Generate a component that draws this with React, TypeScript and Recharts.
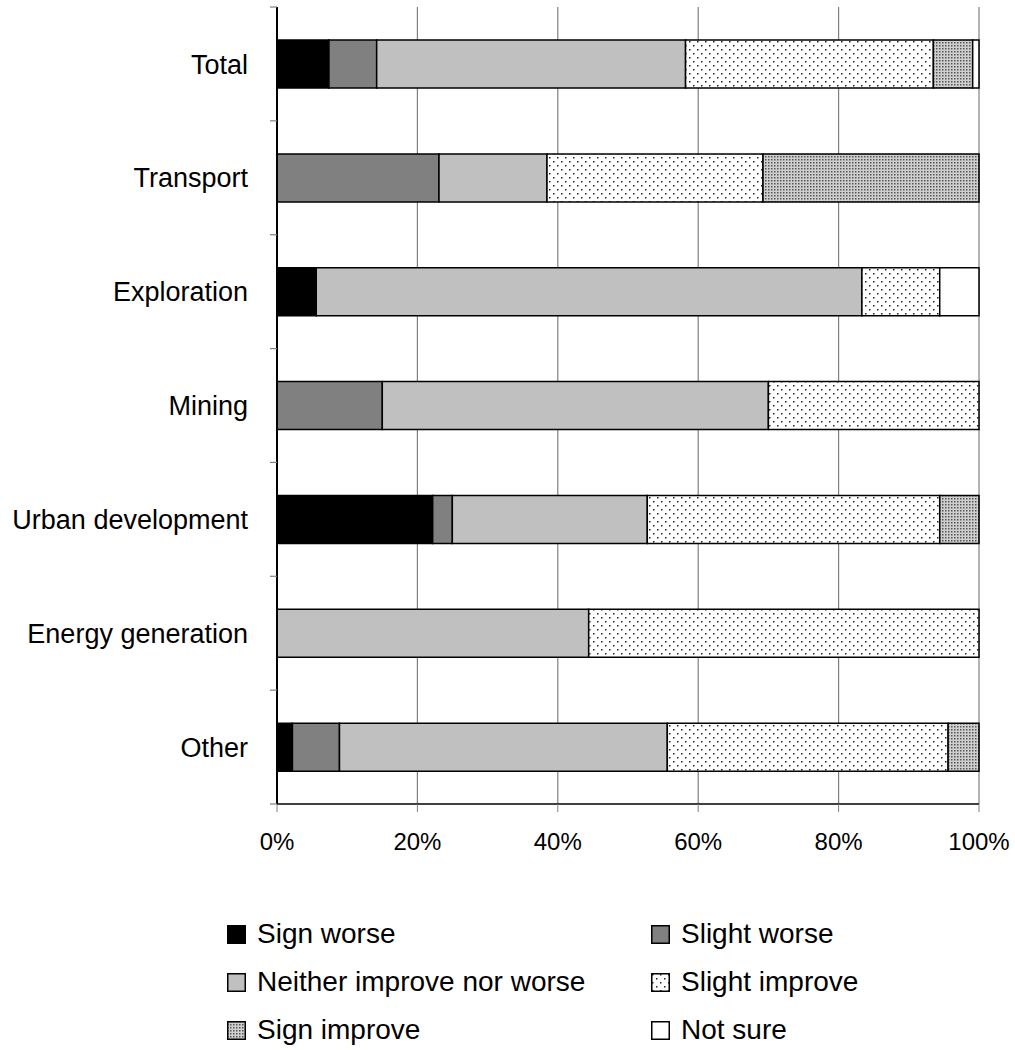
import React from 'react';
import { BarChart, Bar, XAxis, YAxis, CartesianGrid } from 'recharts';

const categories = ['Total', 'Transport', 'Exploration', 'Mining', 'Urban development', 'Energy generation', 'Other'];
const signWorse = [7.4, 0, 5.6, 0, 22.2, 0, 2.2];
const slightWorse = [6.8, 23.1, 0, 15.0, 2.8, 0, 6.7];
const neither = [44.0, 15.4, 77.8, 55.0, 27.8, 44.4, 46.7];
const slightImprove = [35.3, 30.8, 11.1, 30.0, 41.7, 55.6, 40.0];
const signImprove = [5.6, 30.8, 0, 0, 5.6, 0, 4.4];
const notSure = [0.9, 0, 5.6, 0, 0, 0, 0];

const xTicks = [0, 0.2, 0.4, 0.6, 0.8, 1];
const boundaryTicks = [0, 1, 2, 3, 4, 5, 6, 7];

const seriesDefs = [
  { key: 'signWorse', name: 'Sign worse', fill: '#000000', values: signWorse },
  { key: 'slightWorse', name: 'Slight worse', fill: '#808080', values: slightWorse },
  { key: 'neither', name: 'Neither improve nor worse', fill: '#c0c0c0', values: neither },
  { key: 'slightImprove', name: 'Slight improve', fill: 'url(#patSlight)', values: slightImprove },
  { key: 'signImprove', name: 'Sign improve', fill: 'url(#patSign)', values: signImprove },
  { key: 'notSure', name: 'Not sure', fill: '#ffffff', values: notSure },
];

const data = categories.map((c, i) => {
  const row: Record<string, any> = { category: c, position: i };
  seriesDefs.forEach((s) => {
    row[s.key] = s.values[i];
  });
  return row;
});

const FONT = '"Liberation Sans", Arial, sans-serif';

const Patterns = ({ suffix = '' }: { suffix?: string }) => (
  <defs>
    <pattern id={`patSlight${suffix}`} width="8" height="8" patternUnits="userSpaceOnUse">
      <rect width="8" height="8" fill="#ffffff" />
      <rect x="1" y="1" width="1.5" height="1.5" fill="#222222" />
      <rect x="5" y="5" width="1.5" height="1.5" fill="#222222" />
    </pattern>
    <pattern id={`patSign${suffix}`} width="3" height="3" patternUnits="userSpaceOnUse">
      <rect width="3" height="3" fill="#cfcfcf" />
      <rect x="0" y="0" width="1.5" height="1.5" fill="#555555" />
    </pattern>
  </defs>
);

const LegendBlock = () => (
  <div
    style={{
      position: 'absolute',
      left: 227,
      top: 910,
      display: 'grid',
      gridTemplateColumns: '424px 300px',
      gridAutoRows: '48px',
      fontFamily: FONT,
      fontSize: 28,
      color: '#000',
    }}
  >
    {seriesDefs.map((s) => (
      <div key={s.key} style={{ display: 'flex', alignItems: 'center', height: 48 }}>
        <svg width={19} height={19} style={{ marginRight: 11, flexShrink: 0 }}>
          <Patterns suffix="L" />
          <rect
            x={0.75}
            y={0.75}
            width={17.5}
            height={17.5}
            fill={s.fill.startsWith('url') ? s.fill.replace(')', 'L)') : s.fill}
            stroke="#000"
            strokeWidth={1.5}
          />
        </svg>
        <span style={{ whiteSpace: 'nowrap', lineHeight: '28px' }}>{s.name}</span>
      </div>
    ))}
  </div>
);

export default function App() {
  return (
    <div style={{ position: 'absolute', left: 0, top: 0, width: 1015, height: 1050, background: '#fff' }}>
      <BarChart
        width={1015}
        height={1050}
        data={data}
        layout="vertical"
        stackOffset="expand"
        barCategoryGap="29%"
        margin={{ top: 7, right: 36, left: 0, bottom: 186 }}
      >
        <Patterns />
        <CartesianGrid horizontal={false} vertical stroke="#808080" strokeWidth={1.2} yAxisId="cat" />
        <XAxis
          type="number"
          domain={[0, 1]}
          ticks={xTicks}
          tickFormatter={(v: number) => `${Math.round(v * 100)}%`}
          height={60}
          axisLine={{ stroke: '#000', strokeWidth: 1.5 }}
          tickLine={{ stroke: '#808080' }}
          tickSize={8}
          tickMargin={21}
          tick={{ fill: '#000', fontSize: 24, fontFamily: FONT }}
          interval={0}
        />
        <YAxis
          yAxisId="bounds"
          type="number"
          dataKey="position"
          domain={[0, categories.length]}
          allowDataOverflow
          ticks={boundaryTicks}
          width={1}
          tickSize={7}
          tickLine={{ stroke: '#808080', strokeWidth: 1.2 }}
          tickFormatter={() => ''}
          tick={{ fontSize: 1, fill: 'none' }}
          axisLine={{ stroke: '#000', strokeWidth: 2 }}
          interval={0}
        />
        <YAxis
          yAxisId="cat"
          type="category"
          dataKey="category"
          width={276}
          tickLine={false}
          axisLine={false}
          tickSize={0}
          tickMargin={28}
          tick={{ fill: '#000', fontSize: 27, fontFamily: FONT }}
          interval={0}
        />
        {seriesDefs.map((s) => (
          <Bar
            key={s.key}
            dataKey={s.key}
            name={s.name}
            stackId="a"
            yAxisId="cat"
            fill={s.fill}
            stroke="#000"
            strokeWidth={1.5}
            isAnimationActive={false}
          />
        ))}
      </BarChart>
      <LegendBlock />
    </div>
  );
}
